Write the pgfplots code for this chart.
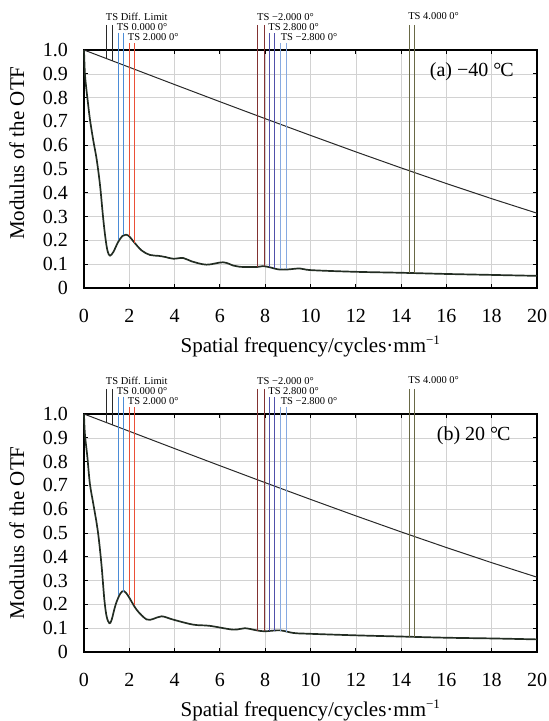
\documentclass[border=0pt]{standalone}
\usepackage{fontspec}
\setmainfont{Liberation Serif}
\usepackage{pgfplots}
\pgfplotsset{compat=1.18}

\definecolor{curve}{RGB}{35,45,35}
\definecolor{mkblack}{RGB}{40,40,40}
\definecolor{mkblue}{RGB}{75,140,215}
\definecolor{mkred}{RGB}{235,80,55}
\definecolor{mkbrown}{RGB}{130,50,50}
\definecolor{mkpurple}{RGB}{80,80,170}
\definecolor{mklblue}{RGB}{135,170,225}
\definecolor{mkolive}{RGB}{105,105,70}

\newcommand{\bigtxt}{\fontsize{20bp}{24bp}\selectfont}
\newcommand{\labtxt}{\fontsize{21bp}{25bp}\selectfont}
\newcommand{\toplab}{\fontsize{10.5bp}{12bp}\selectfont}

\pgfplotsset{
  mtf/.style={
    width=453bp, height=238bp, scale only axis,
    xmin=0, xmax=20, ymin=0, ymax=1,
    xtick={0,2,4,6,8,10,12,14,16,18,20},
    xticklabels={0,2,4,6,8,10,12,14,16,18,20},
    ytick={0,0.1,0.2,0.3,0.4,0.5,0.6,0.7,0.8,0.9,1},
    yticklabels={0,0.1,0.2,0.3,0.4,0.5,0.6,0.7,0.8,0.9,1.0},
    grid=major, grid style={gray!35, line width=0.6pt},
    tick align=inside, tick pos=both,
    major tick length=4bp,
    tick style={black, line width=1pt},
    axis line style={line width=1.3pt},
    ticklabel style={font=\bigtxt},
    xticklabel style={anchor=base, yshift=-34bp},
    yticklabel style={anchor=east, inner sep=0pt, xshift=-16bp},
    xlabel={Spatial frequency/cycles·mm\textsuperscript{\fontsize{13bp}{14bp}\selectfont −1}},
    every axis x label/.style={at={(axis description cs:0.5,0)}, anchor=base, yshift=-64bp, font=\labtxt},
    ylabel={Modulus of the OTF},
    clip=false,
  },
  diff/.style={mkblack, line width=1pt},
  mtfc/.style={curve, line width=1.7pt, smooth, tension=0.55},
  mk/.style={line width=1pt},
}

\begin{document}
\begin{tikzpicture}
\path[use as bounding box] (-84bp,-433bp) rectangle (465bp,288bp);

% ---------- (a) -40 C ----------
\begin{axis}[mtf, at={(0,0)}, anchor=south west,
  every axis y label/.style={at={(axis description cs:-0.148,0.567)}, rotate=90, anchor=center, font=\labtxt}]
\addplot[diff] coordinates {(0,1) (2,0.9274) (4,0.8548) (6,0.7828) (8,0.7115) (10,0.6413)
  (12,0.5721) (14,0.5046) (16,0.4389) (18,0.3753) (20,0.3143)};
\addplot[mtfc] coordinates {(0,1.0) (0.04,0.90) (0.1,0.84) (0.16,0.79) (0.26,0.71) (0.41,0.62)
  (0.56,0.54) (0.71,0.43) (0.85,0.29) (0.96,0.20) (1.05,0.152) (1.15,0.136) (1.3,0.152)
  (1.5,0.192) (1.7,0.219) (1.85,0.224) (2.0,0.217) (2.18,0.196) (2.54,0.158) (2.91,0.139)
  (3.3,0.135) (3.6,0.130) (3.94,0.123) (4.38,0.126) (4.75,0.112) (5.41,0.098) (6.14,0.108)
  (6.6,0.094) (6.88,0.089) (7.61,0.088) (7.9,0.092) (8.2,0.087) (8.6,0.078) (9.0,0.078)
  (9.53,0.082) (10.04,0.075) (12,0.068) (14,0.064) (16,0.059) (18,0.055) (20,0.051)};
% field markers
\addplot[mk, mkblack] coordinates {(1.0,1.106) (1.0,0.964)};
\addplot[mk, mkblack] coordinates {(1.25,1.106) (1.25,0.955)};
\addplot[mk, mkblue] coordinates {(1.52,1.073) (1.52,0.200)};
\addplot[mk, mkblue] coordinates {(1.76,1.073) (1.76,0.221)};
\addplot[mk, mkred] coordinates {(1.99,1.029) (1.99,0.217)};
\addplot[mk, mkred] coordinates {(2.25,1.029) (2.25,0.190)};
\addplot[mk, mkbrown] coordinates {(7.68,1.106) (7.68,0.089)};
\addplot[mk, mkbrown] coordinates {(7.95,1.106) (7.95,0.091)};
\addplot[mk, mkpurple] coordinates {(8.18,1.071) (8.18,0.088)};
\addplot[mk, mkpurple] coordinates {(8.43,1.071) (8.43,0.082)};
\addplot[mk, mklblue] coordinates {(8.68,1.030) (8.68,0.078)};
\addplot[mk, mklblue] coordinates {(8.95,1.030) (8.95,0.078)};
\addplot[mk, mkolive] coordinates {(14.36,1.106) (14.36,0.063)};
\addplot[mk, mkolive] coordinates {(14.60,1.106) (14.60,0.063)};
\node[anchor=base west, inner sep=0pt, font=\toplab] at (axis cs:0.96,1.124) {TS Diff. Limit};
\node[anchor=base west, inner sep=0pt, font=\toplab] at (axis cs:1.44,1.082) {TS 0.000 0°};
\node[anchor=base west, inner sep=0pt, font=\toplab] at (axis cs:1.93,1.040) {TS 2.000 0°};
\node[anchor=base west, inner sep=0pt, font=\toplab] at (axis cs:7.64,1.124) {TS −2.000 0°};
\node[anchor=base west, inner sep=0pt, font=\toplab] at (axis cs:8.13,1.082) {TS 2.800 0°};
\node[anchor=base west, inner sep=0pt, font=\toplab] at (axis cs:8.68,1.040) {TS −2.800 0°};
\node[anchor=base west, inner sep=0pt, font=\toplab] at (axis cs:14.31,1.127) {TS 4.000 0°};
\node[anchor=west, inner sep=0pt, font=\bigtxt] at (axis cs:15.26,0.909) {(a) −40 °\kern-0.05emC};
\end{axis}

% ---------- (b) 20 C ----------
\begin{axis}[mtf, at={(0,-364bp)}, anchor=south west,
  every axis y label/.style={at={(axis description cs:-0.148,0.5)}, rotate=90, anchor=center, font=\labtxt}]
\addplot[diff] coordinates {(0,1) (2,0.9274) (4,0.8548) (6,0.7828) (8,0.7115) (10,0.6413)
  (12,0.5721) (14,0.5046) (16,0.4389) (18,0.3753) (20,0.3143)};
\addplot[mtfc] coordinates {(0,1.0) (0.04,0.916) (0.15,0.818) (0.26,0.707) (0.41,0.623)
  (0.56,0.54) (0.66,0.47) (0.78,0.358) (0.9,0.219) (1.0,0.149) (1.12,0.121) (1.22,0.135)
  (1.4,0.20) (1.6,0.245) (1.76,0.256) (1.95,0.236) (2.32,0.178) (2.76,0.137) (3.06,0.139)
  (3.43,0.150) (3.94,0.136) (4.82,0.115) (5.55,0.110) (6.59,0.094) (7.1,0.100) (7.62,0.091)
  (7.98,0.087) (8.65,0.091) (9.24,0.080) (9.83,0.077) (12,0.070) (14,0.065) (16,0.060)
  (18,0.057) (20,0.053)};
\addplot[mk, mkblack] coordinates {(1.0,1.106) (1.0,0.964)};
\addplot[mk, mkblack] coordinates {(1.25,1.106) (1.25,0.955)};
\addplot[mk, mkblue] coordinates {(1.52,1.073) (1.52,0.238)};
\addplot[mk, mkblue] coordinates {(1.76,1.073) (1.76,0.254)};
\addplot[mk, mkred] coordinates {(1.99,1.029) (1.99,0.238)};
\addplot[mk, mkred] coordinates {(2.25,1.029) (2.25,0.198)};
\addplot[mk, mkbrown] coordinates {(7.68,1.106) (7.68,0.090)};
\addplot[mk, mkbrown] coordinates {(7.95,1.106) (7.95,0.088)};
\addplot[mk, mkpurple] coordinates {(8.18,1.071) (8.18,0.087)};
\addplot[mk, mkpurple] coordinates {(8.43,1.071) (8.43,0.089)};
\addplot[mk, mklblue] coordinates {(8.68,1.030) (8.68,0.090)};
\addplot[mk, mklblue] coordinates {(8.95,1.030) (8.95,0.086)};
\addplot[mk, mkolive] coordinates {(14.36,1.106) (14.36,0.065)};
\addplot[mk, mkolive] coordinates {(14.60,1.106) (14.60,0.065)};
\node[anchor=base west, inner sep=0pt, font=\toplab] at (axis cs:0.96,1.124) {TS Diff. Limit};
\node[anchor=base west, inner sep=0pt, font=\toplab] at (axis cs:1.44,1.082) {TS 0.000 0°};
\node[anchor=base west, inner sep=0pt, font=\toplab] at (axis cs:1.93,1.040) {TS 2.000 0°};
\node[anchor=base west, inner sep=0pt, font=\toplab] at (axis cs:7.64,1.124) {TS −2.000 0°};
\node[anchor=base west, inner sep=0pt, font=\toplab] at (axis cs:8.13,1.082) {TS 2.800 0°};
\node[anchor=base west, inner sep=0pt, font=\toplab] at (axis cs:8.68,1.040) {TS −2.800 0°};
\node[anchor=base west, inner sep=0pt, font=\toplab] at (axis cs:14.31,1.127) {TS 4.000 0°};
\node[anchor=west, inner sep=0pt, font=\bigtxt] at (axis cs:15.57,0.909) {(b) 20 °\kern-0.05emC};
\end{axis}
\end{tikzpicture}
\end{document}
